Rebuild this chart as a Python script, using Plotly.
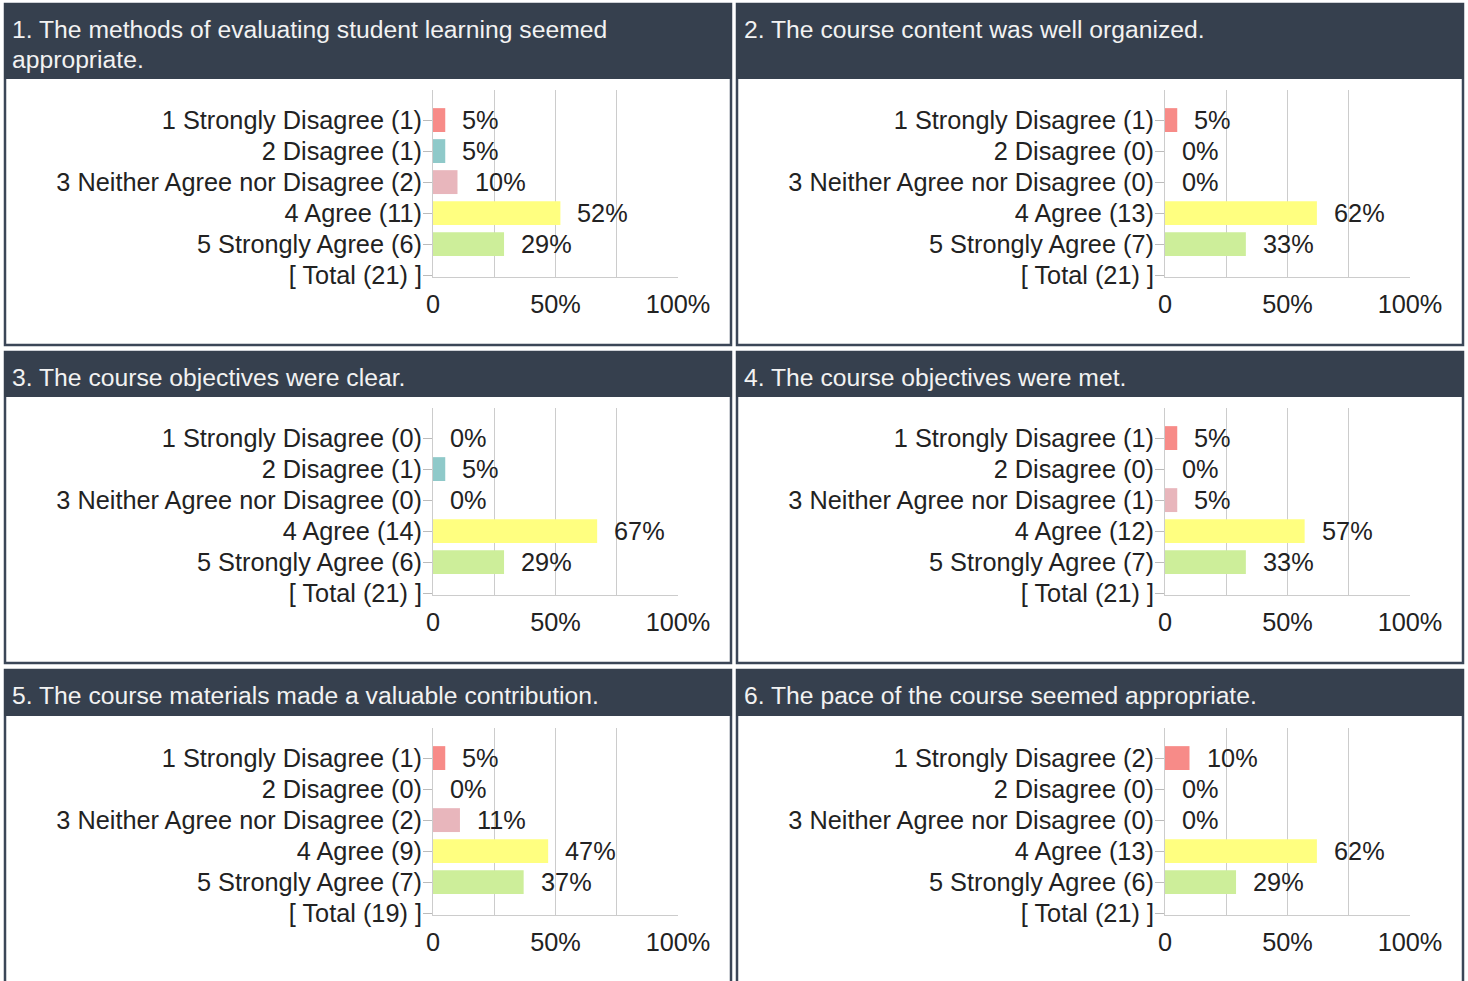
import plotly.graph_objects as go

W, H = 1468, 981

titles = [
    "1. The methods of evaluating student learning seemed<br>appropriate.",
    "2. The course content was well organized.",
    "3. The course objectives were clear.",
    "4. The course objectives were met.",
    "5. The course materials made a valuable contribution.",
    "6. The pace of the course seemed appropriate.",
]
categories = ["1 Strongly Disagree", "2 Disagree", "3 Neither Agree nor Disagree",
              "4 Agree", "5 Strongly Agree"]
counts = [
    [1, 1, 2, 11, 6],
    [1, 0, 0, 13, 7],
    [0, 1, 0, 14, 6],
    [1, 0, 1, 12, 7],
    [1, 0, 2, 9, 7],
    [2, 0, 0, 13, 6],
]
totals = [21, 21, 21, 21, 19, 21]
percents = [
    [5, 5, 10, 52, 29],
    [5, 0, 0, 62, 33],
    [0, 5, 0, 67, 29],
    [5, 0, 5, 57, 33],
    [5, 0, 11, 47, 37],
    [10, 0, 0, 62, 29],
]
bar_colors = ["#f78b88", "#8fc9c9", "#e8b6bc", "#ffff80", "#cdee9a"]
x_tickvals = [0, 25, 50, 75, 100]
x_ticktext = ["0", "", "50%", "", "100%"]

FONT = "Arial, Liberation Sans, sans-serif"
HEADER = "#36404e"
BORDER = "#3b4657"
LABEL_SIZE = 25.3

# layout geometry (pixels)
col_x = [(4, 732), (736, 1464)]
row_y = [(3, 79, 345), (351, 397, 663), (669, 716, 1100)]  # top, header bottom, bottom
plot_x = [(433, 678), (1165, 1410)]
plot_y = [(90, 277), (408, 595), (728, 915)]


def px(x):
    return x / W


def py(y):
    return 1 - y / H


fig = go.Figure()
shapes = []
annotations = []
layout_axes = {}

for k in range(6):
    r, c = divmod(k, 2)
    idx = k + 1
    xa = "x" if idx == 1 else f"x{idx}"
    ya = "y" if idx == 1 else f"y{idx}"
    xname = "xaxis" if idx == 1 else f"xaxis{idx}"
    yname = "yaxis" if idx == 1 else f"yaxis{idx}"

    x0, x1 = col_x[c]
    top, hb, bot = row_y[r]
    # panel body
    shapes.append(dict(type="rect", xref="paper", yref="paper",
                       x0=px(x0 + 1), x1=px(x1 - 1), y0=py(top + 1), y1=py(bot),
                       line=dict(color=BORDER, width=2.5), fillcolor="white",
                       layer="below"))
    # header
    shapes.append(dict(type="rect", xref="paper", yref="paper",
                       x0=px(x0), x1=px(x1), y0=py(top), y1=py(hb),
                       line=dict(width=0), fillcolor=HEADER, layer="below"))
    for li, line in enumerate(titles[k].split("<br>")):
        annotations.append(dict(xref="paper", yref="paper", x=px(x0 + 6),
                                y=py(top + 26 + 30 * li), xanchor="left",
                                yanchor="middle", text=line, showarrow=False,
                                align="left",
                                font=dict(family=FONT, size=24.7, color="#f2f2f2")))

    ticktext = [f"{categories[i]} ({counts[k][i]})" for i in range(5)]
    ticktext.append(f"[ Total ({totals[k]}) ]")

    fig.add_trace(go.Bar(
        x=percents[k], y=list(range(5)), orientation="h",
        marker=dict(color=bar_colors, line=dict(width=0)),
        width=0.77, xaxis=xa, yaxis=ya, hoverinfo="skip", showlegend=False,
    ))
    for i in range(5):
        annotations.append(dict(xref=xa, yref=ya, x=percents[k][i], y=i,
                                xanchor="left", yanchor="middle", xshift=15,
                                text=f"{percents[k][i]}%", showarrow=False,
                                font=dict(family=FONT, size=LABEL_SIZE, color="#222")))

    pxl, pxr = plot_x[c]
    pyt, pyb = plot_y[r]
    layout_axes[xname] = dict(
        domain=[px(pxl), px(pxr)], anchor=ya, range=[0, 100], automargin=False,
        tickvals=x_tickvals, ticktext=x_ticktext, showgrid=True,
        gridcolor="#cccccc", gridwidth=1, zeroline=False,
        showline=True, linecolor="#cccccc", linewidth=1, ticks="",
        ticklabelstandoff=5, fixedrange=True,
        tickfont=dict(family=FONT, size=LABEL_SIZE, color="#222"),
    )
    layout_axes[yname] = dict(
        domain=[py(pyb), py(pyt)], anchor=xa, range=[5.06, -0.97], automargin=False,
        tickvals=list(range(6)), ticktext=ticktext, showgrid=False,
        zeroline=False, showline=True, linecolor="#cccccc", linewidth=1,
        ticks="outside", ticklen=9, tickcolor="#bbbbbb", tickwidth=1,
        ticklabelstandoff=-4, fixedrange=True,
        tickfont=dict(family=FONT, size=LABEL_SIZE, color="#222"),
    )

fig.update_layout(
    width=W, height=H, margin=dict(l=0, r=0, t=0, b=0, autoexpand=False),
    paper_bgcolor="white", plot_bgcolor="rgba(0,0,0,0)",
    shapes=shapes, annotations=annotations, bargap=0.2,
    font=dict(family=FONT), **layout_axes,
)

fig.write_html("out.html", config={"displayModeBar": False})
